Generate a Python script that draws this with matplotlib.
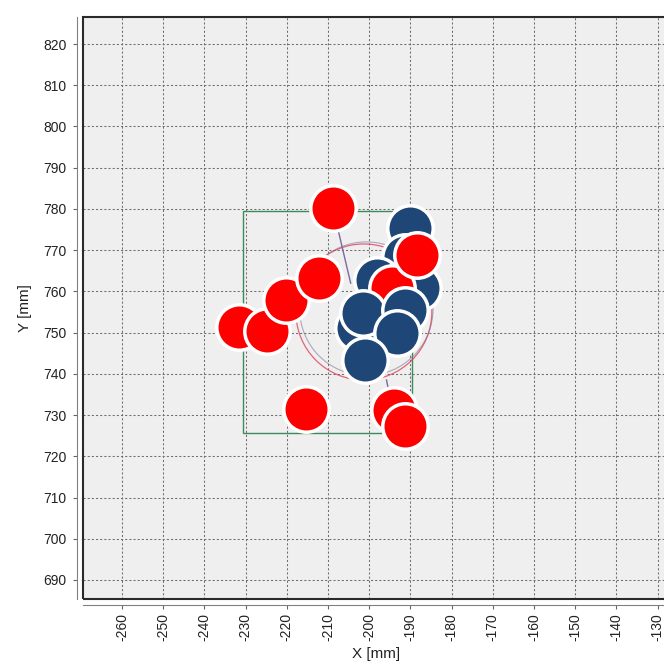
import matplotlib
matplotlib.use("Agg")
import matplotlib.pyplot as plt
from matplotlib.patches import Rectangle, Circle

plt.rcParams['font.family'] = ['Liberation Sans', 'DejaVu Sans']

# Measured positions (mm)
red_x = [-231.6, -224.8, -220.2, -212.2, -208.8, -215.3, -194.0, -191.3, -194.5, -188.4]
red_y = [751.4, 750.4, 757.9, 763.2, 780.2, 731.5, 731.2, 727.4, 760.8, 768.8]

blue_back_x = [-190.1, -191.3, -188.2, -198.1]
blue_back_y = [775.4, 768.3, 760.8, 762.8]
blue_front_x = [-202.7, -201.5, -191.3, -193.3, -201.0]
blue_front_y = [751.1, 754.8, 755.5, 749.9, 743.4]

# Reference geometry
zone_x = [-230.6, -189.6]
zone_y = [725.7, 779.5]
ring_center = (-201.3, 755.0)
ring_radius = 16.5

x_ticks = list(range(-260, -129, 10))
y_ticks = list(range(690, 821, 10))

fig = plt.figure(figsize=(6.64, 6.63), dpi=100)
ax = fig.add_axes([83 / 664, 64 / 663, 587 / 664, 582 / 663])
ax.set_xlim(-269.47, -126.99)
ax.set_ylim(685.39, 826.55)
ax.set_facecolor('#efefef')

# axis lines slightly outside the plot frame
for side in ['top', 'right']:
    ax.spines[side].set_visible(False)
for side in ['left', 'bottom']:
    ax.spines[side].set_position(('outward', 4))
    ax.spines[side].set_color('#808080')
    ax.spines[side].set_linewidth(0.8)

ax.add_patch(Rectangle((0, 0), 1, 1, transform=ax.transAxes, fill=False,
                       edgecolor='#2a2a2a', linewidth=1.5, clip_on=False, zorder=5))

ax.set_xticks(x_ticks)
ax.set_yticks(y_ticks)
ax.set_xticklabels([str(v) for v in x_ticks], rotation=90)
ax.tick_params(axis='both', direction='out', length=3, width=0.8, color='#666666',
               labelsize=10, labelcolor='#222222')
ax.tick_params(axis='y', pad=5)
ax.tick_params(axis='x', pad=3)
ax.grid(True, color='#6e6e6e', linestyle=(0, (2, 2)), linewidth=0.75)
ax.set_axisbelow(True)

ax.set_xlabel('X [mm]', fontsize=11, color='#222222', labelpad=4)
ax.set_ylabel('Y [mm]', fontsize=11, color='#222222', labelpad=8)

# zone rectangle, target ring and guide lines
ax.add_patch(Rectangle((zone_x[0], zone_y[0]), zone_x[1] - zone_x[0], zone_y[1] - zone_y[0],
                       fill=False, edgecolor='#3f8a5a', linewidth=1.0, zorder=2))
ax.add_patch(Circle(ring_center, ring_radius, fill=False, edgecolor='#e0405a',
                    linewidth=0.9, alpha=0.8, zorder=2))
ax.add_patch(Circle((ring_center[0] + 0.6, ring_center[1] + 0.8), ring_radius - 0.3, fill=False,
                    edgecolor='#7a6a90', linewidth=0.8, alpha=0.55, zorder=2))
ax.plot([ring_center[0] - 4, ring_center[0] + 1], [ring_center[1], ring_center[1]],
        color='#e0405a', linewidth=0.9, zorder=2)
ax.plot([red_x[4], -204.5], [red_y[4], 762.0], color='#7a6aa0', linewidth=1.0, zorder=2)
ax.plot([-195.8, -195.0], [738.5, 734.5], color='#7a6aa0', linewidth=1.0, zorder=2)

marker_kw = dict(s=1070, edgecolors='white', linewidths=2.5)
ax.scatter(blue_back_x, blue_back_y, c='#1e4677', zorder=3, **marker_kw)
ax.scatter(red_x, red_y, c='#ff0000', zorder=4, **marker_kw)
ax.scatter(blue_front_x, blue_front_y, c='#1e4677', zorder=4.5, **marker_kw)

fig.savefig('out.png', dpi=100)
